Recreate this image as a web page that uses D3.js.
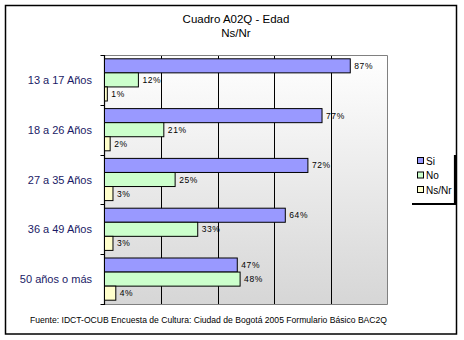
<!DOCTYPE html>
<html><head><meta charset="utf-8">
<script src="https://cdn.jsdelivr.net/npm/d3@7"></script>
<style>body{margin:0;background:#fff}svg{display:block}</style>
</head><body>
<script>
const categories = ["13 a 17 Años","18 a 26 Años","27 a 35 Años","36 a 49 Años","50 años o más"];
const seriesNames = ["Si","No","Ns/Nr"];
const si = [87,77,72,64,47];
const no = [12,21,25,33,48];
const nsnr = [1,2,3,3,4];
const colors = ["#9999ff","#ccffcc","#ffffcc"];
const xTicks = [0,20,40,60,80,100];
const titleLines = ["Cuadro A02Q - Edad","Ns/Nr"];
const footer = "Fuente: IDCT-OCUB Encuesta de Cultura: Ciudad de Bogotá 2005 Formulario Básico BAC2Q";

const W=464,H=340;
const svg=d3.select("body").append("svg").attr("width",W).attr("height",H);
const L=104.5,R=387,T=55,B=304;
const x=d3.scaleLinear().domain([0,100]).range([L,R]);
const y=d3.scaleBand().domain(categories).range([T,B]).paddingInner(0).paddingOuter(0);
const inner=d3.scaleBand().domain(seriesNames).range([0,y.bandwidth()]).paddingOuter(0.27).paddingInner(0);

// outer frame
svg.append("rect").attr("x",5.5).attr("y",5.5).attr("width",451).attr("height",328.5)
  .attr("fill","#fff").attr("stroke","#000").attr("stroke-width",1.5);

// title
titleLines.forEach((t,i)=>svg.append("text").attr("x",236).attr("y",23+i*14)
  .attr("text-anchor","middle").attr("font-family","Arial, Liberation Sans, sans-serif")
  .attr("font-size",11.5).attr("fill","#000").text(t));

// gradient background
const defs=svg.append("defs");
const g=defs.append("linearGradient").attr("id","bg").attr("x1",0).attr("y1",0).attr("x2",0).attr("y2",1);
g.append("stop").attr("offset","0%").attr("stop-color","#ffffff");
g.append("stop").attr("offset","100%").attr("stop-color","#d6d6d6");
svg.append("rect").attr("x",L).attr("y",T).attr("width",R-L).attr("height",B-T).attr("fill","url(#bg)");

// gridlines
svg.append("g").selectAll("line").data(xTicks.slice(1,-1)).join("line")
  .attr("x1",d=>Math.round(x(d))+0.5).attr("x2",d=>Math.round(x(d))+0.5).attr("y1",T).attr("y2",B)
  .attr("stroke","#000").attr("stroke-width",1);
// plot border
svg.append("path").attr("d",`M${L},${T+0.5}H${R+0.5}V${B+0.5}H${L}`).attr("fill","none").attr("stroke","#808080").attr("stroke-width",1);

// y axis
const yAxis=d3.axisLeft(y).tickSize(0).tickFormat("");
const ya=svg.append("g").attr("transform",`translate(${L},0)`).call(yAxis);
ya.select(".domain").remove();
svg.append("line").attr("x1",L).attr("x2",L).attr("y1",T).attr("y2",B+1).attr("stroke","#000").attr("stroke-width",1.2);
const bounds=categories.map(c=>y(c)).concat([B]);
svg.append("g").selectAll("line").data(bounds).join("line")
  .attr("x1",L-4).attr("x2",L).attr("y1",d=>Math.round(d)+0.5).attr("y2",d=>Math.round(d)+0.5)
  .attr("stroke","#000");
svg.append("g").selectAll("text").data(categories).join("text")
  .attr("x",92).attr("y",d=>y(d)+y.bandwidth()/2+4)
  .attr("text-anchor","end").attr("font-family","Arial, Liberation Sans, sans-serif")
  .attr("font-size",11).attr("fill","#1a1a66").text(d=>d);

// bars
const series=[si,no,nsnr];
series.forEach((vals,si_)=>{
  const name=seriesNames[si_];
  const gg=svg.append("g");
  gg.selectAll("rect").data(vals).join("rect")
    .attr("x",L).attr("y",(d,i)=>y(categories[i])+inner(name))
    .attr("width",d=>x(d)-L).attr("height",inner.bandwidth())
    .attr("fill",colors[si_]).attr("stroke","#000").attr("stroke-width",1);
  gg.selectAll("text").data(vals).join("text")
    .attr("x",d=>x(d)+4).attr("y",(d,i)=>y(categories[i])+inner(name)+inner.bandwidth()/2+3)
    .attr("font-family","Arial, Liberation Sans, sans-serif").attr("font-size",8.5)
    .attr("letter-spacing",0.6).attr("fill","#000").text(d=>d+"%");
});

// legend
const lg=svg.append("g");
lg.append("line").attr("x1",455).attr("x2",455).attr("y1",155).attr("y2",205).attr("stroke","#000").attr("stroke-width",2.2);
lg.append("line").attr("x1",412).attr("x2",456).attr("y1",204).attr("y2",204).attr("stroke","#000").attr("stroke-width",2.2);
seriesNames.forEach((n,i)=>{
  const yy=160.5+i*14.5;
  lg.append("rect").attr("x",417.5).attr("y",yy-3).attr("width",6).attr("height",6)
    .attr("fill",colors[i]).attr("stroke","#000").attr("stroke-width",1);
  lg.append("text").attr("x",426).attr("y",yy+4).attr("font-family","Arial, Liberation Sans, sans-serif")
    .attr("font-size",10).attr("fill","#000").text(n);
});

// footer
svg.append("text").attr("x",30).attr("y",323).attr("font-family","Arial, Liberation Sans, sans-serif")
  .attr("font-size",8.5).attr("font-weight","normal").attr("textLength",357).attr("lengthAdjust","spacingAndGlyphs")
  .attr("fill","#000").text(footer);
</script>
</body></html>
